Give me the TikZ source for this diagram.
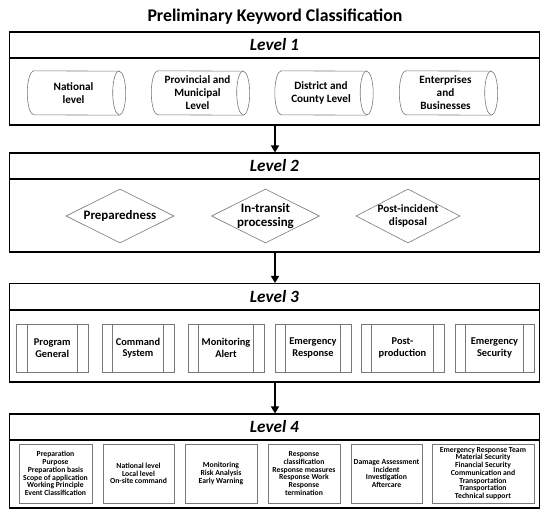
\documentclass[tikz,border=0pt]{standalone}
\usepackage{fontspec}
\setmainfont{Carlito}
\usetikzlibrary{shapes.geometric,arrows.meta}
\definecolor{shapegray}{RGB}{120,120,120}
\begin{document}
\begin{tikzpicture}[x=1pt,y=-1pt,
  lvlhead/.style={draw=black,line width=1.1pt,minimum width=530pt,minimum height=26pt,inner sep=0pt,font=\fontsize{17.2}{19}\selectfont\bfseries\itshape},
  lvlbody/.style={draw=black,line width=1.1pt,minimum width=530pt,inner sep=0pt},
  cyl/.style={minimum width=98pt,minimum height=44pt,inner sep=0pt},
  cyltext/.style={align=center,inner sep=0pt,font=\fontsize{11.2}{13}\selectfont\bfseries},
  cylline/.style={draw=shapegray,line width=0.6pt},
  dia/.style={draw=shapegray,line width=0.6pt,diamond,aspect=2,minimum width=108pt,minimum height=54pt,inner sep=0pt},
  diatext/.style={align=center,inner sep=0pt},
  procbox/.style={draw=shapegray,line width=0.6pt,minimum height=48pt,inner sep=0pt,align=center,font=\fontsize{10.4}{11.4}\selectfont\bfseries,
    path picture={\draw[shapegray,line width=0.6pt] ([xshift=10.5pt]path picture bounding box.north west) -- ([xshift=10.5pt]path picture bounding box.south west);
      \draw[shapegray,line width=0.6pt] ([xshift=-10.5pt]path picture bounding box.north east) -- ([xshift=-10.5pt]path picture bounding box.south east);}},
  listbox/.style={draw=shapegray,line width=0.9pt,minimum height=59pt,inner sep=0pt,align=center,font=\fontsize{7.7}{7.7}\selectfont\bfseries},
  arr/.style={draw=black,line width=1.6pt,-{Triangle[width=8pt,length=7pt]}}
]
\useasboundingbox[fill=white] (0,0) rectangle (550,516);

\node[font=\fontsize{17.8}{20}\selectfont\bfseries] (title) at (275,17) {Preliminary Keyword Classification};

% Level 1
\node[lvlhead] (H1) at (274.4,45) {Level 1};
\node[lvlbody,minimum height=67pt] (B1) at (274.4,91.5) {};
\foreach \n/\x/\t in {c1/76.5/{National\\level},c2/200.5/{Provincial and\\Municipal\\Level},c3/324/{District and\\County Level},c4/448.5/{Enterprises\\and\\Businesses}}{
  \node[cyl] (\n) at (\x,93) {};
  \draw[cylline] ([xshift=6.5pt]\n.north west) arc[start angle=90,end angle=270,x radius=6.5pt,y radius=22pt]
     -- ([xshift=-6.5pt]\n.south east) arc[start angle=-90,end angle=90,x radius=6.5pt,y radius=22pt] -- cycle;
  \draw[cylline] ([xshift=-6.5pt]\n.north east) arc[start angle=90,end angle=270,x radius=6.5pt,y radius=22pt];
  \node[cyltext] (\n t) at ([xshift=-3pt]\n.center) {\t};
}

% Level 2
\node[lvlhead] (H2) at (274.4,166) {Level 2};
\node[lvlbody,minimum height=73pt] (B2) at (274.4,215.5) {};
\node[dia] (d1) at (120,216) {};
\node[dia] (d2) at (265.5,216) {};
\node[dia,minimum width=104pt] (d3) at (408,216) {};
\node[diatext,font=\fontsize{12.9}{14}\selectfont\bfseries] (d1t) at (d1) {Preparedness};
\node[diatext,font=\fontsize{12.9}{14}\selectfont\bfseries] (d2t) at (d2) {In-transit\\processing};
\node[diatext,font=\fontsize{11.2}{13.5}\selectfont\bfseries] (d3t) at (d3) {Post-incident\\disposal};

% Level 3
\node[lvlhead] (H3) at (274.4,296.5) {Level 3};
\node[lvlbody,minimum height=72pt] (B3) at (274.4,346) {};
\node[procbox,minimum width=71.5pt] (p1) at (52.25,348) {Program\\General};
\node[procbox,minimum width=72pt] (p2) at (138,348) {Command\\System};
\node[procbox,minimum width=76pt] (p3) at (226,348) {Monitoring\\Alert};
\node[procbox,minimum width=76pt] (p4) at (313,348) {Emergency\\Response};
\node[procbox,minimum width=83pt] (p5) at (402.5,348) {Post-\\production};
\node[procbox,minimum width=79pt] (p6) at (494.5,348) {Emergency\\Security};

% Level 4
\node[lvlhead] (H4) at (274.4,427) {Level 4};
\node[lvlbody,minimum height=68pt] (B4) at (274.4,474) {};
\node[listbox,minimum width=73pt] (q1) at (55.5,473.5) {Preparation\\Purpose\\Preparation basis\\Scope of application\\Working Principle\\Event Classification};
\node[listbox,minimum width=71pt] (q2) at (138.5,473.5) {National level\\Local level\\On-site command};
\node[listbox,minimum width=72pt] (q3) at (221,473.5) {Monitoring\\Risk Analysis\\Early Warning};
\node[listbox,minimum width=72pt] (q4) at (304,473.5) {Response\\classification\\Response measures\\Response Work\\Response\\termination};
\node[listbox,minimum width=71pt] (q5) at (386.5,473.5) {Damage Assessment\\Incident\\Investigation\\Aftercare};
\node[listbox,minimum width=102pt] (q6) at (483,473.5) {Emergency Response Team\\Material Security\\Financial Security\\Communication and\\Transportation\\Transportation\\Technical support};

% arrows
\draw[arr] (B1.south -| 275,0) -- (H2.north -| 275,0);
\draw[arr] (B2.south -| 275,0) -- (H3.north -| 275,0);
\draw[arr] (B3.south -| 275,0) -- (H4.north -| 275,0);
\end{tikzpicture}
\end{document}
